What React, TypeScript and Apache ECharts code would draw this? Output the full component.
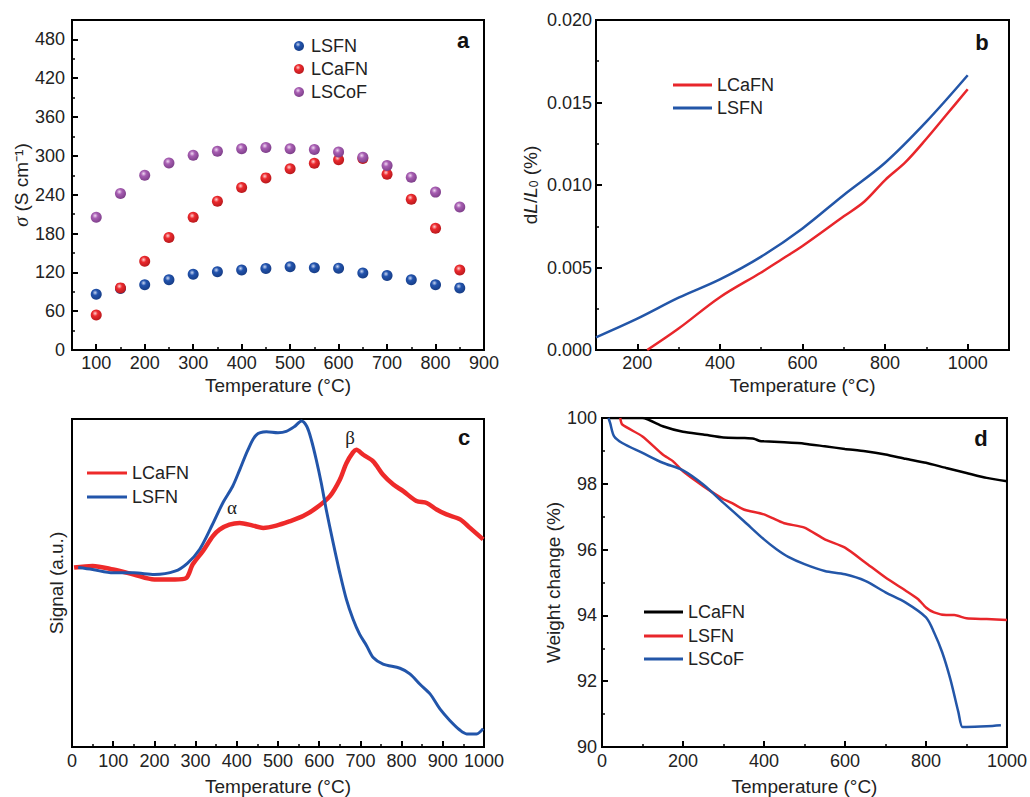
import React, { useEffect, useRef } from "react";
import * as echarts from "echarts";

// ---------- Panel a: conductivity ----------
const aTemps = [100, 150, 200, 250, 300, 350, 400, 450, 500, 550, 600, 650, 700, 750, 800, 850];
const aLSFN = [86, 95, 101, 108.5, 117, 121, 123.5, 126, 128.6, 127, 126.5, 119, 115, 108.5, 101, 96];
const aLCaFN = [54, 96, 137, 174, 205, 230, 251, 266, 280, 288.6, 294, 296, 271.6, 233, 188, 123.5];
const aLSCoF = [205, 242, 270, 289, 301, 307, 311, 313, 311, 310, 306, 298, 285, 267, 244, 221];
const aXMajor = [100, 200, 300, 400, 500, 600, 700, 800, 900];
const aXMinor = [150, 250, 350, 450, 550, 650, 750, 850];
const aYMajor = [0, 60, 120, 180, 240, 300, 360, 420, 480];
const aYMinor = [30, 90, 150, 210, 270, 330, 390, 450];

// ---------- Panel b: thermal expansion ----------
const bTempsLSFN = [100, 200, 300, 400, 500, 600, 700, 800, 900, 1000];
const bLSFN = [0.00077, 0.0019, 0.00317, 0.00428, 0.00566, 0.00737, 0.0094, 0.01135, 0.01384, 0.01665];
const bTempsLCaFN = [224, 300, 400, 500, 550, 600, 700, 750, 800, 850, 900, 950, 1000];
const bLCaFN = [0, 0.0013, 0.0032, 0.0047, 0.0055, 0.0063, 0.0081, 0.009, 0.0103, 0.0114, 0.0128, 0.0143, 0.0158];
const bXMajor = [200, 400, 600, 800, 1000];
const bXMinor = [300, 500, 700, 900];
const bYMajor = [0, 0.005, 0.01, 0.015, 0.02];
const bYMinor = [0.0025, 0.0075, 0.0125, 0.0175];

// ---------- Panel c: TPR signal ----------
const cTempsLCaFN = [5, 50, 100, 150, 200, 250, 277, 293, 318, 342, 358, 382, 407, 439, 464, 496, 528, 561, 593, 626, 650, 666, 682, 690, 707, 731, 755, 780, 804, 836, 861, 885, 909, 942, 966, 998];
const cLCaFN = [54.7, 55.2, 54.1, 52.6, 51.1, 51.1, 51.5, 55.7, 59.8, 64.3, 66.3, 67.8, 68.3, 67.5, 66.8, 67.5, 68.8, 70.4, 72.9, 76.5, 81.5, 86.5, 89.8, 90.6, 89.1, 87.1, 83, 80, 78, 75, 74.4, 72.4, 70.9, 69.4, 66.8, 63.3];
const cTempsLSFN = [15, 50, 100, 150, 200, 250, 280, 310, 340, 366, 390, 407, 427, 447, 472, 500, 520, 540, 557, 570, 581, 593, 605, 617, 634, 650, 666, 682, 698, 715, 731, 755, 796, 820, 844, 869, 893, 917, 942, 958, 982, 998];
const cLSFN = [54.7, 54.1, 53.1, 53.1, 52.6, 53.6, 56, 60.3, 67.6, 74.4, 79.5, 84.5, 90.6, 95.1, 96.1, 95.8, 96.2, 97.7, 99.4, 97.7, 93.6, 87.5, 80.5, 72.4, 62.2, 53.1, 45, 39, 34.4, 30.9, 27.3, 25.3, 24, 22.3, 19.2, 16.2, 11.6, 8.1, 5.1, 4, 4, 5.6];
const cXMajor = [0, 100, 200, 300, 400, 500, 600, 700, 800, 900, 1000];
const cXMinor = [50, 150, 250, 350, 450, 550, 650, 750, 850, 950];

// ---------- Panel d: TGA ----------
const dTempsLCaFN = [20, 100, 150, 200, 250, 300, 350, 375, 390, 400, 450, 500, 550, 600, 650, 700, 750, 800, 850, 900, 950, 1000];
const dLCaFN = [100, 100, 99.75, 99.58, 99.5, 99.41, 99.39, 99.37, 99.3, 99.29, 99.26, 99.22, 99.14, 99.06, 98.99, 98.89, 98.76, 98.64, 98.48, 98.33, 98.18, 98.08];
const dTempsLSFN = [45, 50, 100, 150, 175, 200, 250, 300, 320, 350, 400, 450, 500, 550, 600, 650, 700, 750, 780, 800, 820, 850, 870, 900, 950, 1000];
const dLSFN = [100, 99.8, 99.44, 98.89, 98.69, 98.38, 97.93, 97.53, 97.42, 97.22, 97.07, 96.8, 96.67, 96.31, 96.06, 95.61, 95.15, 94.75, 94.5, 94.24, 94.09, 94.01, 94.01, 93.91, 93.89, 93.86];
const dTempsLSCoF = [16, 20, 30, 50, 100, 150, 200, 250, 300, 350, 400, 430, 460, 500, 550, 600, 650, 700, 750, 800, 820, 840, 860, 880, 890, 900, 950, 985];
const dLSCoF = [100, 99.85, 99.44, 99.24, 98.94, 98.64, 98.41, 97.98, 97.42, 96.87, 96.31, 96.02, 95.78, 95.56, 95.35, 95.25, 95.05, 94.7, 94.39, 93.94, 93.48, 92.88, 92.07, 91.06, 90.61, 90.61, 90.63, 90.66];
const dXMajor = [0, 200, 400, 600, 800, 1000];
const dXMinor = [100, 300, 500, 700, 900];
const dYMajor = [90, 92, 94, 96, 98, 100];
const dYMinor = [91, 93, 95, 97, 99];

const FONT = "Liberation Sans, Arial, sans-serif";
const RED = "#e8262b";
const BLUE = "#2356a8";
const BLACK = "#000000";

const pairs = (xs: number[], ys: number[]) => xs.map((x, i) => [x, ys[i]]);

const sphere = (light: string, base: string, dark: string) => ({
  type: "radial",
  x: 0.4,
  y: 0.35,
  r: 0.7,
  colorStops: [
    { offset: 0, color: light },
    { offset: 0.35, color: base },
    { offset: 1, color: dark },
  ],
});
const blueSphere = sphere("#c9d6f2", "#2253ad", "#163b82");
const redSphere = sphere("#ffd0d0", "#ec2a2e", "#b3171b");
const purpleSphere = sphere("#f0d8f2", "#a75eb2", "#7a3c86");

const labelStyle = { color: "#222", fontSize: 18, fontFamily: FONT, formatter: (v: number) => String(v) };
const nameStyle = { color: "#222", fontSize: 19, fontFamily: FONT };

const mainAxis = (gridIndex: number, min: number, max: number, major: number[], extra: any) => ({
  gridIndex,
  type: "value",
  min,
  max,
  axisLine: { show: true, onZero: false, lineStyle: { color: "#000", width: 2 } },
  axisTick: { show: true, inside: true, length: 6, customValues: major, lineStyle: { color: "#000", width: 2 } },
  splitLine: { show: false },
  nameLocation: "middle",
  nameTextStyle: nameStyle,
  ...extra,
  axisLabel: { ...labelStyle, customValues: major, ...(extra.axisLabel || {}) },
});

const minorAxis = (gridIndex: number, position: string, min: number, max: number, minor: number[]) => ({
  gridIndex,
  type: "value",
  position,
  min,
  max,
  axisLine: { show: false },
  axisLabel: { show: false },
  splitLine: { show: false },
  axisTick: { show: true, inside: true, length: 3, customValues: minor, lineStyle: { color: "#000", width: 1.5 } },
});

const gridBase = { show: true, borderColor: "#000", borderWidth: 2, containLabel: false };

export default function App() {
  const ref = useRef<HTMLDivElement>(null);
  useEffect(() => {
    if (!ref.current) return;
    const chart = echarts.init(ref.current, undefined, { renderer: "svg" });

    const legendLine = (x: number, y: number, color: string, label: string, len = 39) => [
      { type: "line", shape: { x1: x, y1: y, x2: x + len, y2: y }, style: { stroke: color, lineWidth: 3 } },
      {
        type: "text",
        x: x + len + 5,
        y,
        style: { text: label, fontSize: 18, fontFamily: FONT, fill: "#222", verticalAlign: "middle", align: "left" },
      },
    ];
    const legendDot = (x: number, y: number, fill: any, label: string) => [
      { type: "circle", shape: { cx: x, cy: y, r: 5 }, style: { fill } },
      {
        type: "text",
        x: x + 12,
        y,
        style: { text: label, fontSize: 18, fontFamily: FONT, fill: "#222", verticalAlign: "middle", align: "left" },
      },
    ];
    const panelLabel = (x: number, y: number, t: string) => ({
      type: "text",
      x,
      y,
      style: { text: t, fontSize: 22, fontWeight: "bold", fontFamily: FONT, fill: "#111", align: "center", verticalAlign: "middle" },
    });
    const greek = (x: number, y: number, t: string) => ({
      type: "text",
      x,
      y,
      style: { text: t, fontSize: 19, fontFamily: "Liberation Serif, serif", fill: "#222", align: "center", verticalAlign: "middle" },
    });

    const scatter = (name: string, ys: number[], color: any) => ({
      type: "scatter",
      name,
      xAxisIndex: 0,
      yAxisIndex: 0,
      symbol: "circle",
      symbolSize: 11,
      itemStyle: { color, opacity: 1 },
      data: pairs(aTemps, ys),
    });

    const line = (name: string, idx: number, xs: number[], ys: number[], color: string, width: number, smooth: number | boolean) => ({
      type: "line",
      name,
      xAxisIndex: idx,
      yAxisIndex: idx,
      showSymbol: false,
      symbol: "none",
      smooth,
      lineStyle: { color, width },
      itemStyle: { color },
      data: pairs(xs, ys),
    });

    const option: any = {
      animation: false,
      backgroundColor: "#ffffff",
      grid: [
        { ...gridBase, left: 72, top: 20, width: 412, height: 330 },
        { ...gridBase, left: 596, top: 20, width: 413, height: 330 },
        { ...gridBase, left: 72, top: 419, width: 412, height: 329 },
        { ...gridBase, left: 602, top: 418, width: 406, height: 330 },
      ],
      xAxis: [
        mainAxis(0, 50, 900, aXMajor, { position: "bottom", name: "Temperature (°C)", nameGap: 26, axisLabel: { margin: 4 } }),
        mainAxis(1, 100, 1100, bXMajor, { position: "bottom", name: "Temperature (°C)", nameGap: 26, axisLabel: { margin: 4 } }),
        mainAxis(2, 0, 1000, cXMajor, { position: "bottom", name: "Temperature (°C)", nameGap: 30, axisLabel: { margin: 5 } }),
        mainAxis(3, 0, 1000, dXMajor, { position: "bottom", name: "Temperature (°C)", nameGap: 30, axisLabel: { margin: 5 } }),
        minorAxis(0, "bottom", 50, 900, aXMinor),
        minorAxis(1, "bottom", 100, 1100, bXMinor),
        minorAxis(2, "bottom", 0, 1000, cXMinor),
        minorAxis(3, "bottom", 0, 1000, dXMinor),
      ],
      yAxis: [
        mainAxis(0, 0, 510, aYMajor, {
          position: "left",
          name: "{i|σ} (S cm⁻¹)",
          nameRotate: 90,
          nameGap: 40,
          nameTextStyle: {
            ...nameStyle,
            rich: { i: { fontStyle: "italic", fontFamily: "Liberation Serif, serif", fontSize: 20, color: "#222" } },
          },
          axisLabel: { margin: 7 },
        }),
        mainAxis(1, 0, 0.02, bYMajor, {
          position: "left",
          name: "{n|d}{i|L}{n|/}{i|L}{s|0}{n| (%)}",
          nameRotate: 90,
          nameGap: 56,
          nameTextStyle: {
            ...nameStyle,
            rich: {
              n: { fontSize: 19, fontFamily: FONT, color: "#222" },
              i: { fontSize: 19, fontFamily: FONT, fontStyle: "italic", color: "#222" },
              s: { fontSize: 12, fontFamily: FONT, color: "#222", verticalAlign: "bottom", padding: [7, 0, 0, 0] },
            },
          },
          axisLabel: { margin: 4, formatter: (v: number) => v.toFixed(3) },
        }),
        {
          ...mainAxis(2, 0, 100, [], {
            position: "left",
            name: "Signal (a.u.)",
            nameRotate: 90,
            nameGap: 6,
          }),
          axisTick: { show: false },
          axisLabel: { show: false },
        },
        mainAxis(3, 90, 100, dYMajor, {
          position: "left",
          name: "Weight change (%)",
          nameRotate: 90,
          nameGap: 34,
          axisLabel: { margin: 5 },
        }),
        minorAxis(0, "left", 0, 510, aYMinor),
        minorAxis(1, "left", 0, 0.02, bYMinor),
        minorAxis(3, "left", 90, 100, dYMinor),
      ],
      series: [
        scatter("LSFN", aLSFN, blueSphere),
        scatter("LCaFN", aLCaFN, redSphere),
        scatter("LSCoF", aLSCoF, purpleSphere),
        line("LCaFN", 1, bTempsLCaFN, bLCaFN, RED, 2.5, 0.35),
        line("LSFN", 1, bTempsLSFN, bLSFN, BLUE, 2.5, 0.35),
        line("LCaFN", 2, cTempsLCaFN, cLCaFN, "#ee2a2a", 4.5, 0.3),
        line("LSFN", 2, cTempsLSFN, cLSFN, "#2255aa", 3, 0.3),
        line("LCaFN", 3, dTempsLCaFN, dLCaFN, BLACK, 2.5, 0.2),
        line("LSFN", 3, dTempsLSFN, dLSFN, RED, 2.5, 0.2),
        line("LSCoF", 3, dTempsLSCoF, dLSCoF, BLUE, 2.5, 0.3),
      ],
      graphic: [
        ...legendDot(299, 46, blueSphere, "LSFN"),
        ...legendDot(299, 69, redSphere, "LCaFN"),
        ...legendDot(299, 92, purpleSphere, "LSCoF"),
        ...legendLine(673, 85, RED, "LCaFN"),
        ...legendLine(673, 108, BLUE, "LSFN"),
        ...legendLine(87, 473, "#ee2a2a", "LCaFN", 40),
        ...legendLine(87, 497, "#2255aa", "LSFN", 40),
        ...legendLine(644, 612, BLACK, "LCaFN"),
        ...legendLine(644, 636, RED, "LSFN"),
        ...legendLine(644, 659, BLUE, "LSCoF"),
        panelLabel(463, 40, "a"),
        panelLabel(982, 42, "b"),
        panelLabel(464, 437, "c"),
        panelLabel(981, 438, "d"),
        greek(232, 507, "α"),
        greek(350, 437, "β"),
      ],
    };
    chart.setOption(option);
    return () => chart.dispose();
  }, []);
  return (
    <div
      ref={ref}
      style={{ position: "absolute", left: 0, top: 0, width: 1030, height: 797, background: "#fff" }}
    />
  );
}
